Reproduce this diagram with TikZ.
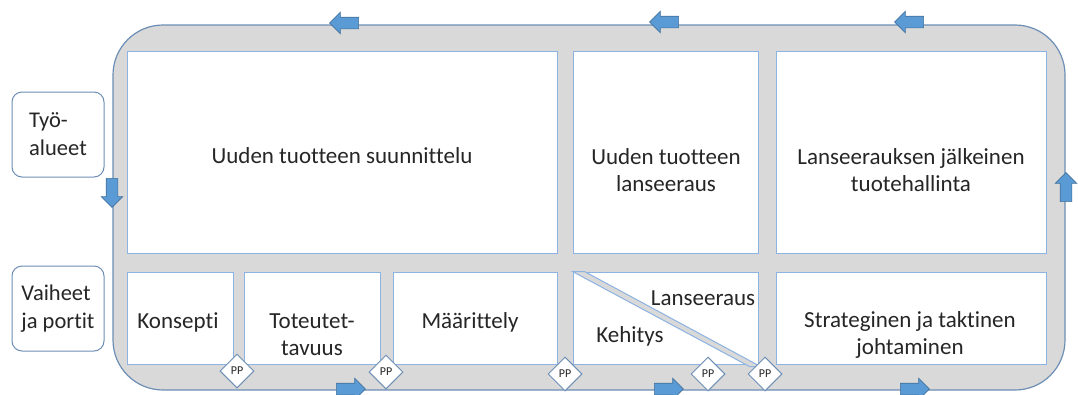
\documentclass[tikz,border=0pt]{standalone}
\usepackage{fontspec}
\setmainfont{Carlito}[Ligatures=CommonOff]
\usetikzlibrary{shapes.geometric, shapes.arrows, positioning, calc}
\definecolor{bandgray}{HTML}{D9D9D9}
\definecolor{bandedge}{HTML}{6D8EB5}
\definecolor{boxedge}{HTML}{8DB3E2}
\definecolor{arrowblue}{HTML}{5B9BD5}
\definecolor{arrowedge}{HTML}{41719C}
\definecolor{inkgray}{HTML}{262626}

\tikzset{
  band/.style={draw=bandedge, fill=bandgray, line width=1.2pt, rounded corners=50pt, inner sep=0pt},
  areabox/.style={draw=boxedge, fill=white, line width=1pt, inner sep=0pt},
  sidebox/.style={draw=bandedge, fill=white, line width=1pt, rounded corners=10pt, align=left,
    minimum width=92pt, minimum height=85pt, font=\fontsize{22.5}{28}\selectfont, text=inkgray},
  boxtext/.style={align=center, font=\fontsize{23}{27}\selectfont, text=inkgray, inner sep=0pt},
  gate/.style={diamond, draw=bandedge, fill=white, line width=1pt, minimum width=34pt,
    minimum height=34pt, inner sep=0pt, font=\fontsize{12}{14}\selectfont, text=inkgray},
  flowarrow/.style={single arrow, draw=arrowedge, fill=arrowblue, line width=0.6pt, inner sep=5.5pt,
    minimum height=29pt, single arrow head extend=5pt}
}

\begin{document}
\begin{tikzpicture}[x=1pt, y=-1pt]
  \useasboundingbox (0,0) rectangle (1078,394);

  % Flow band round the work areas
  \node[band, minimum width=952pt, minimum height=365pt] (band) at (589,207.5) {};

  % Work areas
  \foreach \name/\xa/\xb in {plan/127/557, launch/573/758, after/776/1046}
    \node[areabox, minimum width={\xb-\xa}, minimum height=202pt] (\name) at ({(\xa+\xb)/2}, 152) {};

  % Phases
  \foreach \name/\xa/\xb in {concept/127/233, feas/244/380, spec/393/557, dev/573/758, mgmt/776/1046}
    \node[areabox, minimum width={\xb-\xa}, minimum height=92pt] (\name) at ({(\xa+\xb)/2}, 318) {};

  % Development / launch split
  \draw[draw=boxedge, fill=bandgray, line width=1pt]
    (dev.north west) -- ++(12,0) -- ($(dev.south east)+(2,2)$) -- ++(-11,0) -- cycle;

  % Texts
  \foreach \name/\x/\y/\txt in {
    plantxt/342/156/Uuden tuotteen suunnittelu,
    launchtxt/666/170/Uuden tuotteen\\lanseeraus,
    aftertxt/911/170/Lanseerauksen jälkeinen\\tuotehallinta,
    concepttxt/178/322/Konsepti,
    feastxt/312/335/Toteutet-\\tavuus,
    spectxt/470/322/Määrittely,
    launchphase/703/298/Lanseeraus,
    devtxt/630/336/Kehitys,
    mgmttxt/910/335/Strateginen ja taktinen\\johtaminen
  }
    \node[boxtext] (\name) at (\x,\y) {\txt};

  % Row labels
  \node[sidebox] (areas) at (58,134.5) {Työ-\\alueet};
  \node[sidebox] (phases) at (58,308.5) {Vaiheet\\ja portit};

  % Gates
  \foreach \i/\x/\y in {1/237/371, 2/386/372, 3/565/374, 4/708/374, 5/765/374}
    \node[gate] (gate\i) at (\x,\y) {PP};

  % Flow direction
  \foreach \i/\x/\y/\dir in {1/347/23/180, 2/667/22/180, 3/912/22/180, 4/112/190/270,
                             5/1066/190/90, 6/348/389/0, 7/666/389/0, 8/912/389/0}
    \node[flowarrow, shape border rotate=\dir] (flow\i) at (\x,\y) {};
\end{tikzpicture}
\end{document}
